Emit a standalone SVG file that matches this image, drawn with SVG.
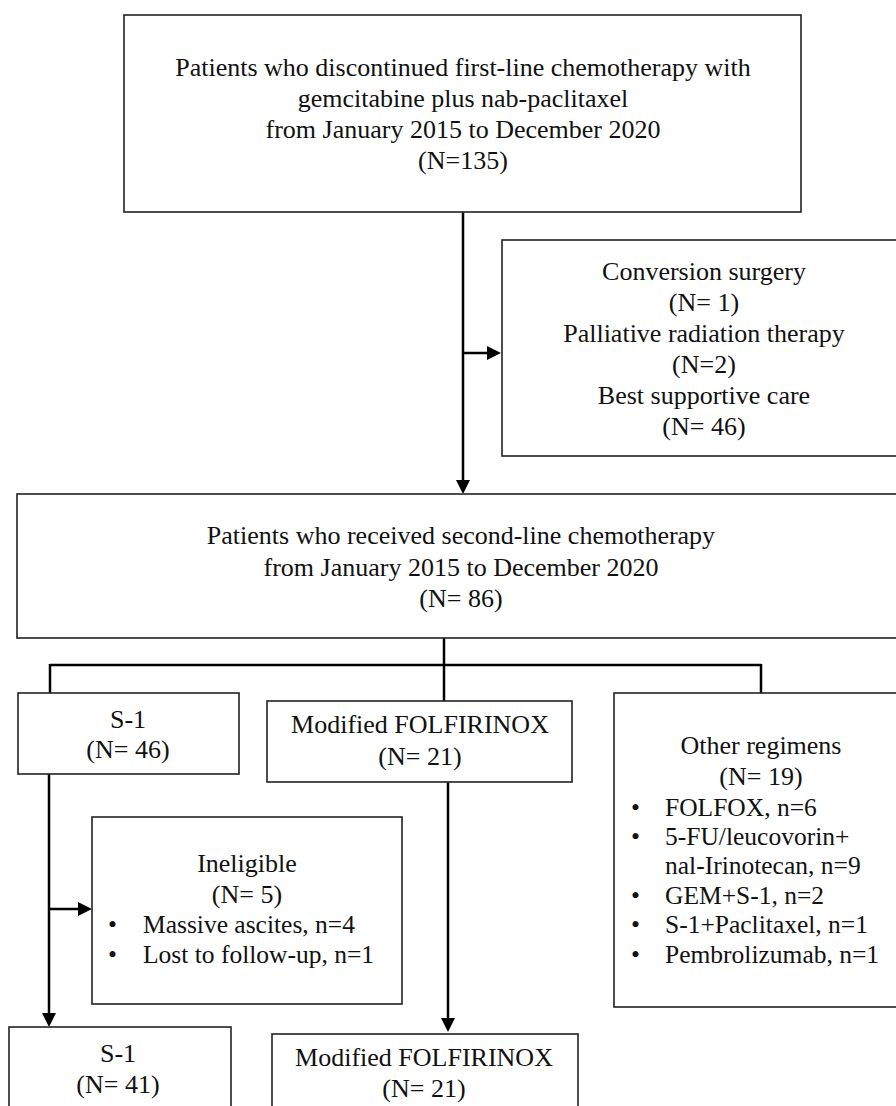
<svg xmlns="http://www.w3.org/2000/svg" width="896" height="1106" viewBox="0 0 896 1106">
<defs>
<style>
.box{fill:#fff;stroke:#222;stroke-width:1.6}
.t{font-family:"Liberation Serif","Times New Roman",serif;font-size:26px;fill:#111}
.c{text-anchor:middle}
.bl{font-family:"Liberation Serif","Times New Roman",serif;font-size:25.5px;fill:#111}
.con{fill:none;stroke:#000;stroke-width:2.5}
</style>
<marker id="ah" markerUnits="userSpaceOnUse" markerWidth="15" markerHeight="15" refX="10" refY="7" orient="auto">
<path d="M0,0 L14,7 L0,14 z" fill="#000"/>
</marker>
</defs>
<rect width="896" height="1106" fill="#fff"/>

<g id="connectors">
<path class="con" d="M463,212 V490" marker-end="url(#ah)"/>
<path class="con" d="M463,353 H497" marker-end="url(#ah)"/>
<path class="con" d="M444,638 V701"/>
<path class="con" d="M50,665 H761" stroke-width="3"/>
<path class="con" d="M50,664 V693"/>
<path class="con" d="M761,664 V693"/>
<path class="con" d="M49,774 V1023" marker-end="url(#ah)"/>
<path class="con" d="M49,909 H88" marker-end="url(#ah)"/>
<path class="con" d="M448,782 V1028" marker-end="url(#ah)"/>
</g>

<g id="n-first">
<rect class="box" x="124" y="15" width="677" height="197"/>
<text class="t c" x="463" y="76">Patients who discontinued first-line chemotherapy with</text>
<text class="t c" x="463" y="107">gemcitabine plus nab-paclitaxel</text>
<text class="t c" x="463" y="138">from January 2015 to December 2020</text>
<text class="t c" x="463" y="169">(N=135)</text>
</g>

<g id="n-excluded">
<rect class="box" x="502" y="240" width="420" height="216"/>
<text class="t c" x="704" y="280">Conversion surgery</text>
<text class="t c" x="704" y="311">(N= 1)</text>
<text class="t c" x="704" y="342">Palliative radiation therapy</text>
<text class="t c" x="704" y="373">(N=2)</text>
<text class="t c" x="704" y="404">Best supportive care</text>
<text class="t c" x="704" y="435">(N= 46)</text>
</g>

<g id="n-second">
<rect class="box" x="17" y="494" width="900" height="144"/>
<text class="t c" x="461" y="544">Patients who received second-line chemotherapy</text>
<text class="t c" x="461" y="576">from January 2015 to December 2020</text>
<text class="t c" x="461" y="607">(N= 86)</text>
</g>

<g id="n-s1">
<rect class="box" x="18" y="693" width="221" height="81"/>
<text class="t c" x="128" y="728">S-1</text>
<text class="t c" x="128" y="758">(N= 46)</text>
</g>

<g id="n-mfolfirinox">
<rect class="box" x="267" y="701" width="305" height="81"/>
<text class="t c" x="420" y="733">Modified FOLFIRINOX</text>
<text class="t c" x="420" y="765">(N= 21)</text>
</g>

<g id="n-other">
<rect class="box" x="614" y="693" width="300" height="314"/>
<text class="t c" x="761" y="754">Other regimens</text>
<text class="t c" x="761" y="785">(N= 19)</text>
<text class="bl" x="631" y="816">•</text><text class="bl" x="665" y="816">FOLFOX, n=6</text>
<text class="bl" x="631" y="845">•</text><text class="bl" x="665" y="845">5-FU/leucovorin+</text>
<text class="bl" x="665" y="874">nal-Irinotecan, n=9</text>
<text class="bl" x="631" y="904">•</text><text class="bl" x="665" y="904">GEM+S-1, n=2</text>
<text class="bl" x="631" y="933">•</text><text class="bl" x="665" y="933">S-1+Paclitaxel, n=1</text>
<text class="bl" x="631" y="963">•</text><text class="bl" x="665" y="963">Pembrolizumab, n=1</text>
</g>

<g id="n-ineligible">
<rect class="box" x="92" y="817" width="310" height="187"/>
<text class="t c" x="247" y="872">Ineligible</text>
<text class="t c" x="247" y="903">(N= 5)</text>
<text class="bl" x="108" y="933">•</text><text class="bl" x="143" y="933">Massive ascites, n=4</text>
<text class="bl" x="108" y="963">•</text><text class="bl" x="143" y="963">Lost to follow-up, n=1</text>
</g>

<g id="n-s1-final">
<rect class="box" x="9" y="1027" width="222" height="100"/>
<text class="t c" x="118" y="1062">S-1</text>
<text class="t c" x="118" y="1093">(N= 41)</text>
</g>

<g id="n-mfolfirinox-final">
<rect class="box" x="272" y="1034" width="306" height="100"/>
<text class="t c" x="424" y="1066">Modified FOLFIRINOX</text>
<text class="t c" x="424" y="1097">(N= 21)</text>
</g>
</svg>
